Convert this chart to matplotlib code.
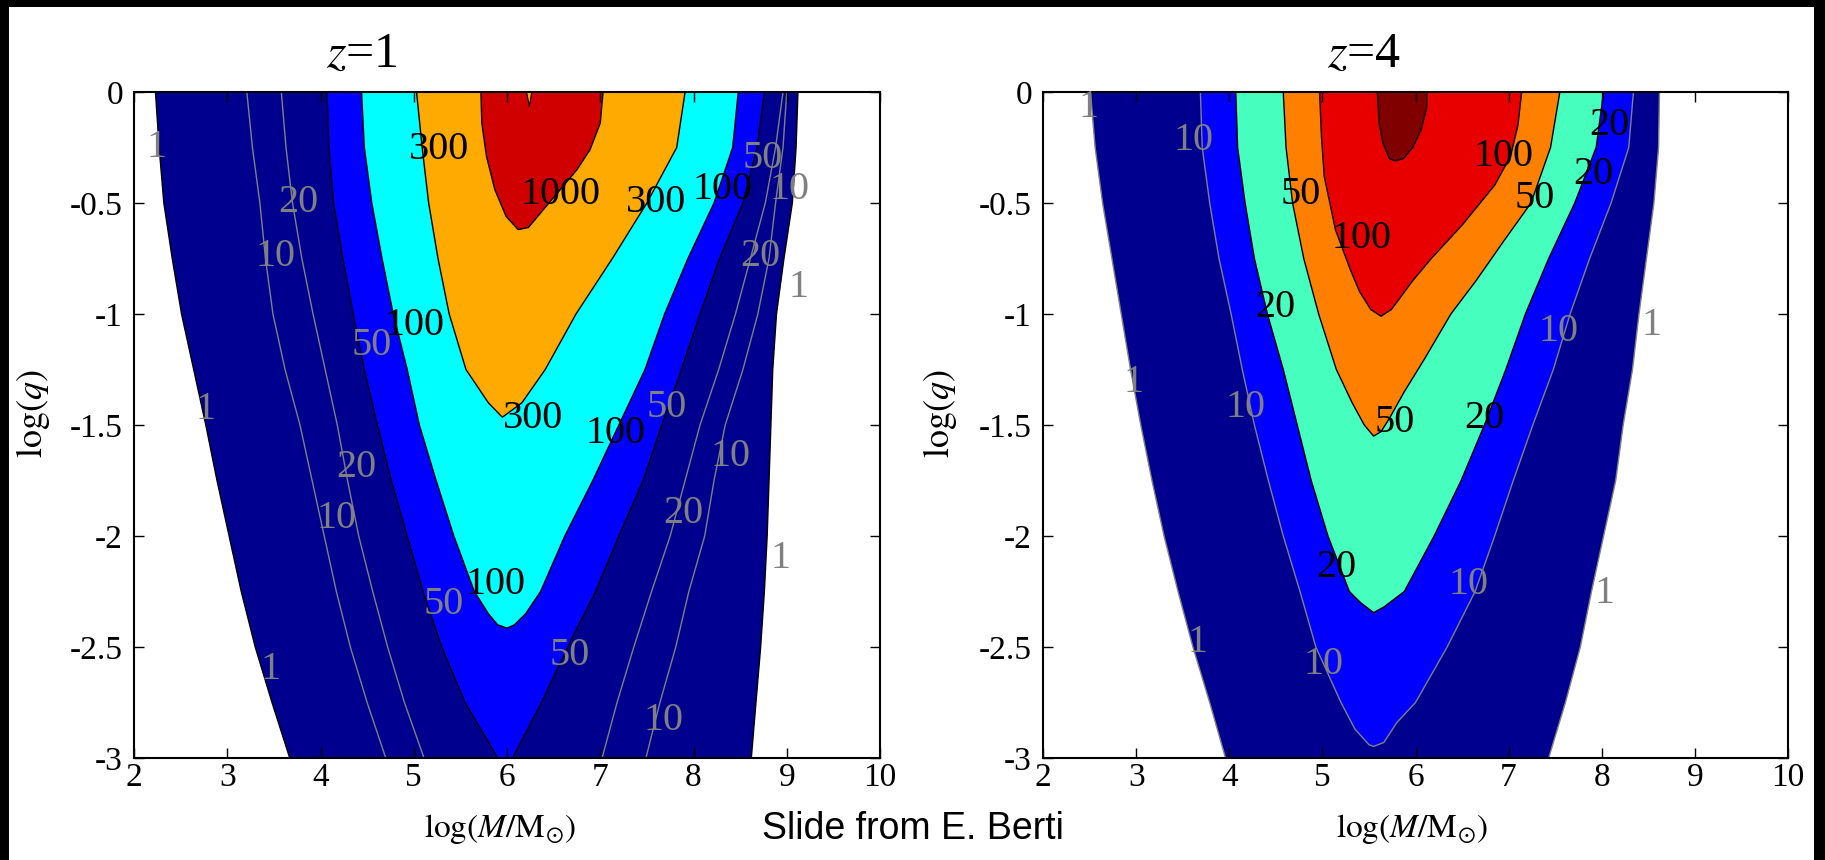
import numpy as np
import matplotlib
matplotlib.use("Agg")
import matplotlib.pyplot as plt
from matplotlib.patches import Rectangle
from matplotlib.ticker import MultipleLocator, FormatStrFormatter

# Styling
plt.rc("font", family="Liberation Serif")
plt.rc("mathtext", fontset="stix")
plt.rc("axes", unicode_minus=False, linewidth=1.5)
plt.rc("xtick", labelsize=24, direction="in", top=True, bottom=True)
plt.rc("ytick", labelsize=24, direction="in", left=True, right=True)
plt.rc("xtick.major", size=7, width=1.0, pad=3)
plt.rc("ytick.major", size=7, width=1.0, pad=8)

GRAY = "#808080"

# common log(q) samples for the long contours
yq = [0, -0.25, -0.5, -0.75, -1.0, -1.25, -1.5, -1.75, -2.0, -2.25, -2.5, -2.75, -3.0]

# ---------------- z = 1 : contour edges, log(M) at given log(q) ----------------
z1_c1_xl = [2.23, 2.27, 2.32, 2.41, 2.51, 2.64, 2.77, 2.89, 3.02, 3.15, 3.30, 3.48, 3.67]
z1_c1_xr = [9.12, 9.10, 9.06, 8.97, 8.89, 8.85, 8.83, 8.81, 8.79, 8.76, 8.72, 8.67, 8.62]

z1_c50_xl = [4.07, 4.09, 4.14, 4.24, 4.35, 4.47, 4.61, 4.76, 4.93, 5.10, 5.30, 5.55, 5.90]
z1_c50_xr = [8.76, 8.68, 8.53, 8.28, 8.07, 7.87, 7.66, 7.46, 7.20, 6.95, 6.65, 6.37, 6.06]

z1_c100_y = [0, -0.25, -0.5, -0.75, -1.0, -1.25, -1.5, -1.75, -2.0, -2.25, -2.35, -2.4, -2.415]
z1_c100_xl = [4.44, 4.47, 4.55, 4.66, 4.78, 4.93, 5.06, 5.24, 5.43, 5.65, 5.80, 5.90, 6.00]
z1_c100_xr = [8.48, 8.42, 8.22, 7.94, 7.69, 7.48, 7.20, 6.92, 6.62, 6.36, 6.20, 6.08, 6.00]

z1_c300_y = [0, -0.25, -0.5, -0.75, -1.0, -1.25, -1.4, -1.465]
z1_c300_xl = [5.03, 5.09, 5.16, 5.26, 5.38, 5.56, 5.80, 5.95]
z1_c300_xr = [7.91, 7.82, 7.50, 7.13, 6.74, 6.41, 6.16, 5.95]

z1_c1000_yl = [0, -0.14, -0.29, -0.44, -0.56, -0.62]
z1_c1000_xl = [5.72, 5.73, 5.78, 5.87, 5.99, 6.12]
z1_c1000_yr = [0, -0.14, -0.26, -0.35, -0.46, -0.55, -0.61, -0.62]
z1_c1000_xr = [7.03, 7.00, 6.89, 6.75, 6.53, 6.35, 6.23, 6.12]

# small dip of the 1000 contour at the top edge
z1_dip_x = [6.21, 6.24, 6.265]
z1_dip_y = [0, -0.065, 0]

# unfilled grey contours (10 and 20) on both flanks
z1_g10_xl = [3.21, 3.27, 3.35, 3.41, 3.49, 3.62, 3.78, 3.91, 4.04, 4.17, 4.32, 4.50, 4.70]
z1_g20_xl = [3.58, 3.63, 3.70, 3.80, 3.92, 4.05, 4.18, 4.29, 4.41, 4.56, 4.72, 4.90, 5.11]
z1_g20_xr = [8.96, 8.88, 8.77, 8.61, 8.45, 8.27, 8.07, 7.91, 7.75, 7.55, 7.36, 7.18, 7.02]
z1_g10_xr = [9.00, 8.96, 8.88, 8.81, 8.69, 8.53, 8.34, 8.22, 8.12, 7.95, 7.81, 7.64, 7.49]

z1_lab_val = [1, 300, 1000, 300, 100, 50, 10, 20, 10, 20, 1, 100, 50, 1, 300, 50,
              100, 10, 20, 10, 20, 1, 100, 50, 50, 1, 10]
z1_lab_x = [2.24, 5.27, 6.57, 7.60, 8.31, 8.74, 9.03, 3.76, 3.52, 8.72, 9.13, 5.01, 4.55,
            2.77, 6.28, 7.71, 7.16, 8.40, 4.38, 4.17, 7.89, 8.93, 5.88, 5.32, 6.67, 3.46, 7.68]
z1_lab_y = [-0.25, -0.26, -0.46, -0.50, -0.44, -0.30, -0.44, -0.50, -0.74, -0.74, -0.88,
            -1.05, -1.14, -1.43, -1.47, -1.42, -1.54, -1.64, -1.69, -1.92, -1.90, -2.10,
            -2.22, -2.31, -2.54, -2.60, -2.83]
z1_gray_levels = [1, 10, 20, 50]

# ---------------- z = 4 ----------------
z4_c1_xl = [2.51, 2.56, 2.64, 2.74, 2.84, 2.94, 3.05, 3.17, 3.30, 3.45, 3.61, 3.79, 3.96]
z4_c1_xr = [8.62, 8.61, 8.56, 8.48, 8.40, 8.33, 8.23, 8.15, 8.02, 7.89, 7.77, 7.61, 7.43]

z4_c10_yl = [0, -0.25, -0.5, -0.75, -1.0, -1.25, -1.5, -1.75, -2.0, -2.25, -2.5, -2.75, -2.87, -2.94, -2.948]
z4_c10_xl = [3.69, 3.71, 3.79, 3.89, 4.02, 4.14, 4.27, 4.42, 4.58, 4.76, 4.93, 5.20, 5.35, 5.50, 5.55]
z4_c10_yr = [0, -0.25, -0.5, -0.75, -1.0, -1.25, -1.5, -1.75, -2.0, -2.25, -2.5, -2.75, -2.84, -2.93, -2.948]
z4_c10_xr = [8.34, 8.29, 8.10, 7.87, 7.66, 7.48, 7.26, 7.05, 6.85, 6.64, 6.34, 6.00, 5.80, 5.66, 5.55]

z4_c20_yl = [0, -0.25, -0.5, -0.75, -1.0, -1.25, -1.5, -1.75, -2.0, -2.25, -2.3, -2.345]
z4_c20_xl = [4.07, 4.09, 4.17, 4.27, 4.41, 4.58, 4.73, 4.88, 5.06, 5.29, 5.41, 5.55]
z4_c20_yr = [0, -0.25, -0.5, -0.75, -1.0, -1.25, -1.5, -1.75, -2.0, -2.25, -2.32, -2.345]
z4_c20_xr = [8.02, 7.94, 7.71, 7.43, 7.18, 6.97, 6.74, 6.49, 6.20, 5.88, 5.66, 5.55]

z4_c50_yl = [0, -0.25, -0.5, -0.75, -1.0, -1.25, -1.4, -1.5, -1.55]
z4_c50_xl = [4.58, 4.61, 4.68, 4.80, 4.96, 5.15, 5.32, 5.45, 5.55]
z4_c50_yr = [0, -0.25, -0.5, -0.67, -0.85, -1.0, -1.2, -1.35, -1.47, -1.53, -1.55]
z4_c50_xr = [7.55, 7.45, 7.24, 6.95, 6.65, 6.38, 6.10, 5.88, 5.72, 5.63, 5.55]

z4_c100_yl = [0, -0.2, -0.38, -0.62, -0.8, -0.9, -0.98, -1.01]
z4_c100_xl = [4.97, 4.99, 5.02, 5.14, 5.30, 5.40, 5.52, 5.63]
z4_c100_yr = [0, -0.15, -0.29, -0.42, -0.6, -0.75, -0.85, -0.93, -0.98, -1.01]
z4_c100_xr = [7.14, 7.10, 7.02, 6.85, 6.50, 6.17, 5.97, 5.83, 5.74, 5.63]

z4_c500_yl = [0, -0.07, -0.14, -0.23, -0.3, -0.31]
z4_c500_xl = [5.59, 5.60, 5.61, 5.65, 5.72, 5.78]
z4_c500_yr = [0, -0.07, -0.17, -0.25, -0.3, -0.31]
z4_c500_xr = [6.12, 6.12, 6.06, 5.97, 5.87, 5.78]

z4_lab_val = [1, 10, 20, 100, 20, 50, 50, 100, 20, 10, 1, 1, 10, 50, 20, 20, 10, 1, 1, 10]
z4_lab_x = [2.49, 3.62, 8.08, 6.95, 7.91, 4.77, 7.28, 5.42, 4.49, 7.54, 8.53, 2.97, 4.17,
            5.78, 6.74, 5.15, 6.57, 8.03, 3.66, 5.01]
z4_lab_y = [-0.07, -0.22, -0.15, -0.29, -0.37, -0.46, -0.48, -0.66, -0.97, -1.08, -1.05,
            -1.31, -1.42, -1.49, -1.47, -2.14, -2.22, -2.26, -2.48, -2.58]
z4_gray_levels = [1, 10]


def closed(yl, xl, yr, xr):
    # walk down the left flank and back up the right one
    x = np.concatenate([np.asarray(xl), np.asarray(xr)[::-1]])
    y = np.concatenate([np.asarray(yl), np.asarray(yr)[::-1]])
    return x, y


def draw_bands(ax, bands):
    for yl, xl, yr, xr, face, edge in bands:
        x, y = closed(yl, xl, yr, xr)
        ax.fill(x, y, facecolor=face, edgecolor="none", zorder=1)
    for yl, xl, yr, xr, face, edge in bands:
        x, y = closed(yl, xl, yr, xr)
        ax.plot(x, y, color=edge, lw=1.0, zorder=2, solid_joinstyle="round")


def draw_labels(ax, vals, xs, ys, gray_levels):
    for v, x, y in zip(vals, xs, ys):
        col = GRAY if v in gray_levels else "black"
        ax.text(x, y, str(v), color=col, fontsize=29, ha="center", va="center", zorder=4)


def style_axes(ax):
    ax.set_xlim(2, 10)
    ax.set_ylim(-3, 0)
    ax.xaxis.set_major_locator(MultipleLocator(1))
    ax.yaxis.set_major_locator(MultipleLocator(0.5))
    ax.xaxis.set_major_formatter(FormatStrFormatter("%g"))
    ax.yaxis.set_major_formatter(FormatStrFormatter("%g"))


W, H = 1825, 860
fig = plt.figure(figsize=(W / 100, H / 100), dpi=100, facecolor="white")
ax1 = fig.add_axes([134 / W, 102 / H, 746 / W, 666 / H])
ax2 = fig.add_axes([1043 / W, 102 / H, 745 / W, 666 / H])

# z = 1
draw_bands(ax1, [
    (yq, z1_c1_xl, yq, z1_c1_xr, "#00008F", "black"),
    (yq, z1_c50_xl, yq, z1_c50_xr, "#0000FF", "black"),
    (z1_c100_y, z1_c100_xl, z1_c100_y, z1_c100_xr, "#00FFFF", "black"),
    (z1_c300_y, z1_c300_xl, z1_c300_y, z1_c300_xr, "#FFAA00", "black"),
    (z1_c1000_yl, z1_c1000_xl, z1_c1000_yr, z1_c1000_xr, "#D00000", "black"),
])
ax1.fill(z1_dip_x, z1_dip_y, facecolor="#FFAA00", edgecolor="black", lw=0.8, zorder=2)
for xs in (z1_g10_xl, z1_g20_xl, z1_g20_xr, z1_g10_xr):
    ax1.plot(xs, yq, color=GRAY, lw=1.0, zorder=1.5)
draw_labels(ax1, z1_lab_val, z1_lab_x, z1_lab_y, z1_gray_levels)
style_axes(ax1)

# z = 4
draw_bands(ax2, [
    (yq, z4_c1_xl, yq, z4_c1_xr, "#00008F", GRAY),
    (z4_c10_yl, z4_c10_xl, z4_c10_yr, z4_c10_xr, "#0000FF", GRAY),
    (z4_c20_yl, z4_c20_xl, z4_c20_yr, z4_c20_xr, "#46FFBE", "black"),
    (z4_c50_yl, z4_c50_xl, z4_c50_yr, z4_c50_xr, "#FF8000", "black"),
    (z4_c100_yl, z4_c100_xl, z4_c100_yr, z4_c100_xr, "#E80000", "black"),
    (z4_c500_yl, z4_c500_xl, z4_c500_yr, z4_c500_xr, "#800000", "black"),
])
draw_labels(ax2, z4_lab_val, z4_lab_x, z4_lab_y, z4_gray_levels)
style_axes(ax2)

# titles and axis labels
fig.text(362 / W, 1 - 67 / H, r"$z$=1", fontsize=36, ha="center", va="baseline")
fig.text(1364 / W, 1 - 67 / H, r"$z$=4", fontsize=36, ha="center", va="baseline")
for xc in (500, 1412):
    fig.text(xc / W, 1 - 837 / H, r"$\log(M/\mathrm{M}_{\odot})$", fontsize=24,
             ha="center", va="baseline")
for xc in (33, 940):
    fig.text(xc / W, 1 - 414 / H, r"$\log(q)$", fontsize=26, rotation=90,
             ha="center", va="center")
fig.text(762 / W, 1 - 839 / H, "Slide from E. Berti", family="Liberation Sans",
         fontsize=27, ha="left", va="baseline")

# black frame on the left, top and right
for x0, y0, w, h in [(0, 0, 8.5, H), (0, H - 7, W, 7), (W - 11, 0, 11, H)]:
    fig.add_artist(Rectangle((x0 / W, y0 / H), w / W, h / H, transform=fig.transFigure,
                             facecolor="black", edgecolor="none", zorder=10))

fig.savefig("out.png", dpi=100, facecolor="white")
